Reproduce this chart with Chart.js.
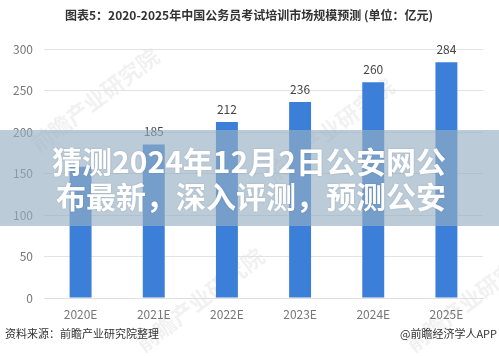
<!DOCTYPE html>
<html><head><meta charset="utf-8">
<script src="https://cdn.jsdelivr.net/npm/chart.js@4/dist/chart.umd.min.js"></script>
<style>html,body{margin:0;padding:0;background:#fff;}canvas{display:block;}</style>
</head><body>
<canvas id="c" width="499" height="356"></canvas>
<script>
const categories = ["2020E","2021E","2022E","2023E","2024E","2025E"];
const marketSize = [158,185,212,236,260,284];
const shownLabels = ["", "185","212","236","260","284"];
const yTicks = [0,50,100,150,200,250,300];
const titleText = "图表5：2020-2025年中国公务员考试培训市场规模预测 (单位：亿元)";
const sourceText = "资料来源：前瞻产业研究院整理";
const brandText = "@前瞻经济学人APP";
const overlayLines = ["猜测2024年12月2日公安网公", "布最新，深入评测，预测公安"];
const watermark = "前瞻产业研究院";

const FONT = '"Noto Sans CJK SC", "Noto Sans", sans-serif';

const decor = {
  id: 'decor',
  beforeDraw(chart) {
    const ctx = chart.ctx;
    ctx.save();
    ctx.fillStyle = '#fff';
    ctx.fillRect(0,0,chart.width,chart.height);
    // watermarks
    ctx.fillStyle = 'rgba(120,120,120,0.10)';
    ctx.font = 'bold 22px ' + FONT;
    [[95,100],[330,130],[200,300],[470,300]].forEach(([x,y])=>{
      ctx.save(); ctx.translate(x,y); ctx.rotate(-0.65);
      ctx.textAlign='center'; ctx.textBaseline='middle';
      ctx.fillText(watermark,0,0); ctx.restore();
    });
    ctx.restore();
  },
  afterDatasetsDraw(chart) {
    const ctx = chart.ctx;
    const meta = chart.getDatasetMeta(0);
    ctx.save();
    ctx.font = '12px ' + FONT;
    ctx.fillStyle = '#444';
    ctx.textAlign = 'center';
    ctx.textBaseline = 'middle';
    meta.data.forEach((bar,i)=>{
      if (shownLabels[i]) ctx.fillText(shownLabels[i], bar.x, bar.y - 13);
    });
    ctx.restore();
  },
  afterDraw(chart) {
    const ctx = chart.ctx;
    ctx.save();
    // title
    ctx.font = 'bold 12px ' + FONT;
    ctx.fillStyle = '#333';
    ctx.textAlign = 'center';
    ctx.textBaseline = 'middle';
    ctx.fillText(titleText, 249, 15);
    // footer
    ctx.font = '11px ' + FONT;
    ctx.fillStyle = '#333';
    ctx.textAlign = 'left';
    ctx.fillText(sourceText, 5, 334);
    ctx.textAlign = 'right';
    ctx.fillText(brandText, 497, 334);
    // overlay band
    ctx.fillStyle = 'rgba(150,175,195,0.65)';
    ctx.fillRect(0, 130, chart.width, 96);
    ctx.font = 'bold 30px ' + FONT;
    ctx.fillStyle = '#fff';
    ctx.textAlign = 'center';
    ctx.shadowColor = 'rgba(0,0,0,0.15)';
    ctx.shadowBlur = 2;
    ctx.fillText(overlayLines[0], 249, 162);
    ctx.fillText(overlayLines[1], 251, 197);
    ctx.restore();
  }
};

new Chart(document.getElementById('c'), {
  type: 'bar',
  data: {
    labels: categories,
    datasets: [{
      data: marketSize,
      backgroundColor: '#3b7fd9',
      borderWidth: 0,
      barPercentage: 0.3,
      categoryPercentage: 1.0
    }]
  },
  options: {
    responsive: false,
    animation: false,
    devicePixelRatio: 1,
    layout: { padding: { left: 0, right: 16, top: 49, bottom: 28 } },
    plugins: { legend: { display: false }, title: { display: false }, tooltip: { enabled: false } },
    scales: {
      x: {
        grid: { display: false, drawTicks: false },
        border: { display: true, color: '#e0e0e0' },
        ticks: { color: '#777', font: { size: 12, family: FONT }, padding: 9, maxRotation: 0 },
        afterFit(s) { s.height = 30; }
      },
      y: {
        min: 0, max: 300,
        afterBuildTicks(s) { s.ticks = yTicks.map(v => ({ value: v })); },
        grid: { color: '#e3e3e3', drawTicks: false },
        border: { display: false },
        ticks: { color: '#777', font: { size: 12, family: FONT }, padding: 11 },
        afterFit(s) { s.width = 44; }
      }
    }
  },
  plugins: [decor]
});
</script>
</body></html>
